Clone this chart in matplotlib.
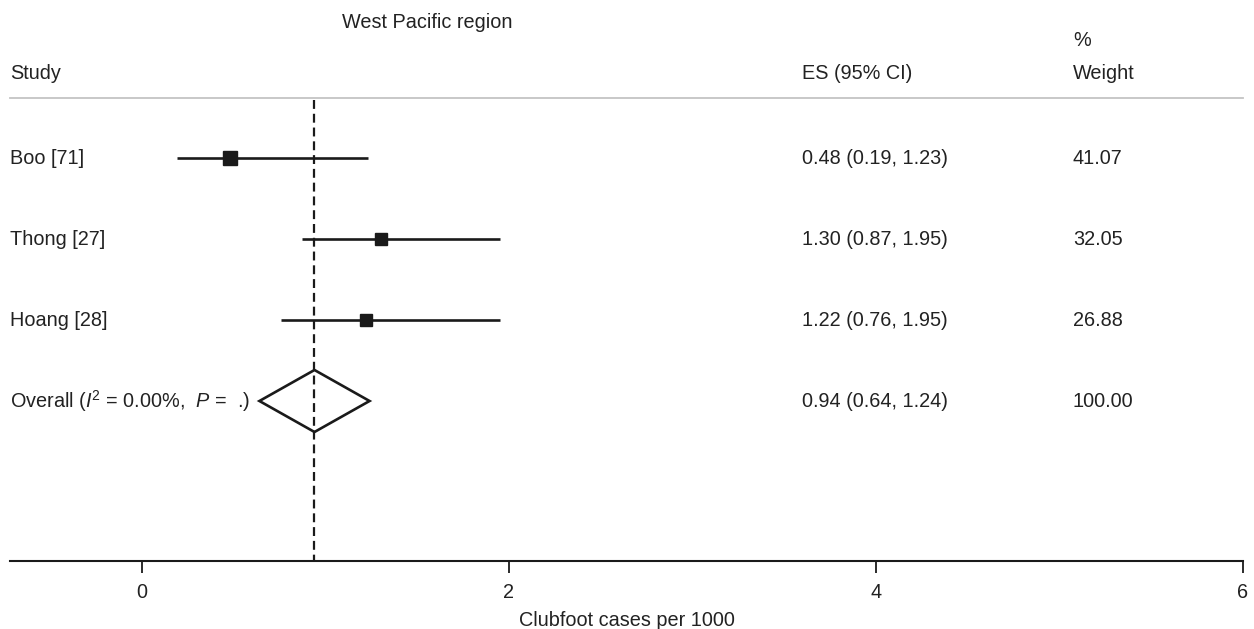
import matplotlib
matplotlib.use("Agg")
import matplotlib.pyplot as plt
from matplotlib.patches import Polygon
import numpy as np

# ---- data ----
studies = ["Boo [71]", "Thong [27]", "Hoang [28]"]
es = [0.48, 1.30, 1.22]
lo = [0.19, 0.87, 0.76]
hi = [1.23, 1.95, 1.95]
weights = [41.07, 32.05, 26.88]
overall_es, overall_lo, overall_hi = 0.94, 0.64, 1.24
overall_label = "Overall ($\\mathit{I}^{2}$ = 0.00%,  $\\mathit{P}$ =  .)"
xticks = [0, 2, 4, 6]
title = "West Pacific region"
xlabel = "Clubfoot cases per 1000"

plt.rcParams['font.family'] = ['Liberation Sans', 'DejaVu Sans']
plt.rcParams['mathtext.fontset'] = 'custom'
plt.rcParams['mathtext.rm'] = 'Liberation Sans'
plt.rcParams['mathtext.it'] = 'Liberation Sans:italic'

W, H = 1254, 629
fig = plt.figure(figsize=(W / 100, H / 100), dpi=100)
ax_bottom_px = 561
ax = fig.add_axes([10 / W, (H - ax_bottom_px) / H, 1233 / W, ax_bottom_px / H])
ax.set_xlim(-0.7193, 6)
ax.set_ylim(ax_bottom_px, 0)

txt_col = "#222222"
fs = 14.3
row0, dy = 158, 81
rows = [row0 + dy * i for i in range(len(studies) + 1)]
yt = ax.get_yaxis_transform()

# header
ax.text(0.338, 22, title, transform=yt, ha='center', va='center', fontsize=fs, color=txt_col)
ax.text(0.0, 73, "Study", transform=yt, ha='left', va='center', fontsize=fs, color=txt_col)
ax.text(0.642, 73, "ES (95% CI)", transform=yt, ha='left', va='center', fontsize=fs, color=txt_col)
ax.text(0.862, 40, "%", transform=yt, ha='left', va='center', fontsize=fs, color=txt_col)
ax.text(0.862, 73, "Weight", transform=yt, ha='left', va='center', fontsize=fs, color=txt_col)
ax.plot([0, 1], [98, 98], transform=yt, color='#c4c4c4', lw=1.3, clip_on=False)

# overall dashed line
ax.plot([overall_es, overall_es], [100, ax_bottom_px], color='#1a1a1a', lw=1.6,
        linestyle=(0, (4, 2.2)), zorder=4)

# studies
for i, (name, e, l, h, w) in enumerate(zip(studies, es, lo, hi, weights)):
    y = rows[i]
    ax.plot([l, h], [y, y], color='#1a1a1a', lw=1.9, solid_capstyle='butt', zorder=2)
    ax.plot([e], [y], marker='s', color='#1a1a1a', markersize=7.5 + 0.05 * w, zorder=3)
    ax.text(0.0, y, name, transform=yt, ha='left', va='center', fontsize=fs, color=txt_col)
    ax.text(0.642, y, f"{e:.2f} ({l:.2f}, {h:.2f})", transform=yt,
            ha='left', va='center', fontsize=fs, color=txt_col)
    ax.text(0.862, y, f"{w:.2f}", transform=yt, ha='left', va='center', fontsize=fs, color=txt_col)

# overall diamond
yo = rows[-1]
half_h = 31
diamond = Polygon([[overall_lo, yo], [overall_es, yo - half_h], [overall_hi, yo], [overall_es, yo + half_h]],
                  closed=True, facecolor='none', edgecolor='#1a1a1a', lw=1.9, zorder=2)
ax.add_patch(diamond)
ax.text(0.0, yo, overall_label, transform=yt, ha='left', va='center', fontsize=fs, color=txt_col)
ax.text(0.642, yo, f"{overall_es:.2f} ({overall_lo:.2f}, {overall_hi:.2f})", transform=yt,
        ha='left', va='center', fontsize=fs, color=txt_col)
ax.text(0.862, yo, f"{sum(weights):.2f}", transform=yt, ha='left', va='center', fontsize=fs, color=txt_col)

# axes styling
for s in ['top', 'left', 'right']:
    ax.spines[s].set_visible(False)
ax.spines['bottom'].set_linewidth(1.5)
ax.spines['bottom'].set_color('#1a1a1a')
ax.set_yticks([])
ax.set_xticks(xticks)
ax.set_xticklabels([str(t) for t in xticks])
ax.tick_params(axis='x', direction='out', length=8.5, width=1.3, color='#1a1a1a', pad=7.5,
               labelsize=fs, labelcolor=txt_col)
ax.set_xlabel(xlabel, fontsize=fs, color=txt_col, labelpad=6)
ax.patch.set_alpha(0)

fig.savefig("out.png", dpi=100)
